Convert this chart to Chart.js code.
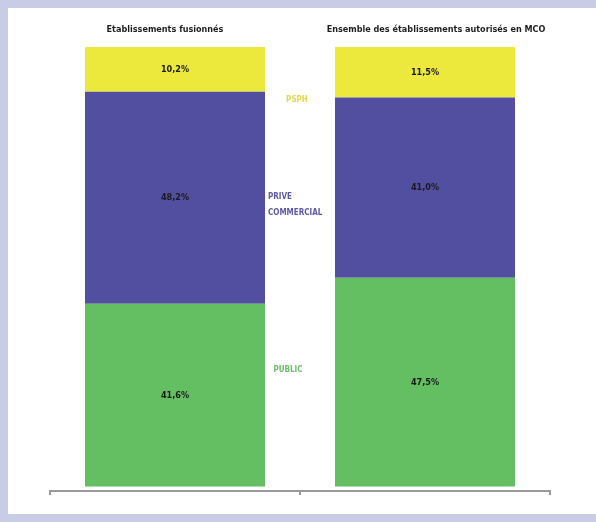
<!DOCTYPE html>
<html>
<head>
<meta charset="utf-8">
<script src="https://cdn.jsdelivr.net/npm/chart.js@4"></script>
<style>
  html,body{margin:0;padding:0;background:#c8cce6;}
  #wrap{position:relative;width:596px;height:522px;}
  canvas{display:block;}
</style>
</head>
<body>
<div id="wrap"><canvas id="c" width="596" height="522"></canvas></div>
<script>
// categories and shares (%) per sector
const categories = ["Etablissements fusionnés", "Ensemble des établissements autorisés en MCO"];
const seriesNames = ["PUBLIC", "PRIVE COMMERCIAL", "PSPH"];
const publicValues = [41.6, 47.5];
const priveValues = [48.2, 41.0];
const psphValues = [10.2, 11.5];

const COLORS = { public: "#64be62", prive: "#534fa0", psph: "#ece83c" };
const TEXT_COLORS = { public: "#6cc06a", prive: "#5c58aa", psph: "#dedb4e" };
const FONT = "'Liberation Sans Narrow','DejaVu Sans Condensed',sans-serif";

const fmt = v => v.toFixed(1).replace(".", ",") + "%";

// background frame + white panel
const framePlugin = {
  id: "frame",
  beforeDraw(chart) {
    const ctx = chart.ctx;
    ctx.save();
    ctx.fillStyle = "#c8cce6";
    ctx.fillRect(0, 0, chart.width, chart.height);
    ctx.fillStyle = "#ffffff";
    ctx.fillRect(8, 8, chart.width - 8, chart.height - 16);
    ctx.restore();
  }
};

// values inside segments, titles above bars, sector names between bars
const labelsPlugin = {
  id: "labels",
  afterDatasetsDraw(chart) {
    const ctx = chart.ctx;
    const x = chart.scales.x, y = chart.scales.y;
    ctx.save();
    ctx.textAlign = "center";
    ctx.textBaseline = "middle";
    ctx.fillStyle = "#1a1a1a";
    ctx.font = "bold 9px " + FONT;
    chart.data.datasets.forEach((ds, di) => {
      const meta = chart.getDatasetMeta(di);
      meta.data.forEach((bar, i) => {
        const mid = (bar.y + bar.base) / 2;
        ctx.fillText(fmt(ds.data[i]), bar.x, mid);
      });
    });
    // titles
    ctx.font = "bold 9px " + FONT;
    ctx.fillStyle = "#1e1e1e";
    categories.forEach((c, i) => {
      ctx.fillText(c, x.getPixelForValue(i) + (i === 0 ? -10 : 11), 30);
    });
    // sector names in the gap
    const gx = (x.getPixelForValue(0) + x.getPixelForValue(1)) / 2;
    ctx.font = "bold 8px " + FONT;
    ctx.fillStyle = TEXT_COLORS.psph;
    ctx.fillText(seriesNames[2], gx - 3, y.getPixelForValue(87.9));
    ctx.fillStyle = TEXT_COLORS.prive;
    ctx.textAlign = "left";
    const [w1, w2] = seriesNames[1].split(" ");
    ctx.fillText(w1, gx - 32, y.getPixelForValue(65.8));
    ctx.fillText(w2, gx - 32, y.getPixelForValue(62.2));
    ctx.textAlign = "center";
    ctx.fillStyle = TEXT_COLORS.public;
    ctx.fillText(seriesNames[0], gx - 12, y.getPixelForValue(26.5));
    ctx.restore();
  }
};

new Chart(document.getElementById("c"), {
  type: "bar",
  data: {
    labels: categories,
    datasets: [
      { label: seriesNames[0], data: publicValues, backgroundColor: COLORS.public },
      { label: seriesNames[1], data: priveValues, backgroundColor: COLORS.prive },
      { label: seriesNames[2], data: psphValues, backgroundColor: COLORS.psph }
    ]
  },
  options: {
    responsive: false,
    animation: false,
    datasets: { bar: { categoryPercentage: 1, barPercentage: 0.72, borderWidth: 0 } },
    layout: { padding: { left: 50, right: 46, top: 47, bottom: 27 } },
    plugins: { legend: { display: false }, tooltip: { enabled: false } },
    scales: {
      x: {
        stacked: true,
        offset: true,
        ticks: { display: false },
        grid: { drawOnChartArea: false, tickLength: 4, color: "#9a9a9a", lineWidth: 2, offset: true },
        border: { color: "#9a9a9a", width: 2 }
      },
      y: {
        stacked: true,
        min: -1,
        max: 100,
        display: false
      }
    }
  },
  plugins: [framePlugin, labelsPlugin]
});
</script>
</body>
</html>
